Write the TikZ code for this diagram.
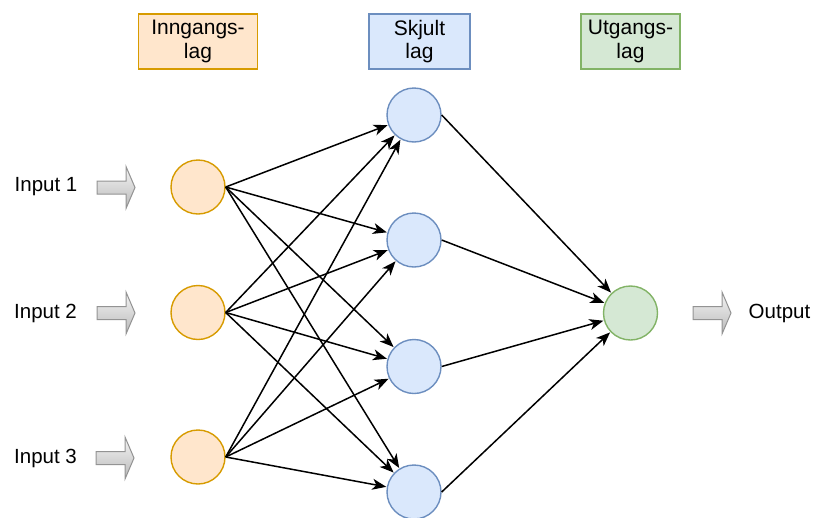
\documentclass[tikz,border=0pt]{standalone}
\usepackage{fontspec}
\setmainfont{Liberation Sans}
\usetikzlibrary{arrows.meta}
\definecolor{inFill}{HTML}{FFE6CC}
\definecolor{inDraw}{HTML}{D79B00}
\definecolor{hidFill}{HTML}{DAE8FC}
\definecolor{hidDraw}{HTML}{6C8EBF}
\definecolor{outFill}{HTML}{D5E8D4}
\definecolor{outDraw}{HTML}{82B366}
\tikzset{
  neuron/.style={circle, minimum size=54pt, inner sep=0pt, line width=1.4pt},
  inneuron/.style={neuron, fill=inFill, draw=inDraw},
  hidneuron/.style={neuron, fill=hidFill, draw=hidDraw},
  outneuron/.style={neuron, fill=outFill, draw=outDraw},
  header/.style={rectangle, minimum height=55pt, inner sep=0pt, line width=1.4pt, align=center,
    font=\fontsize{21}{23.5}\selectfont},
  label/.style={inner sep=0pt, font=\fontsize{20.5}{23}\selectfont},
  conn/.style={line width=1.5pt, -{Stealth[length=14pt,width=11pt,inset=4pt]}, shorten >=0.5pt},
  barrowstyle/.style={top color=gray!8, bottom color=gray!55, draw=gray!85, line width=1pt, line join=miter},
  barrow/.pic={\path[barrowstyle] (0,-6.5) -- (29,-6.5) -- (29,-21) -- (38,0) -- (29,21) -- (29,6.5) -- (0,6.5) -- cycle;}
}
\begin{document}
\begin{tikzpicture}[x=1pt,y=-1pt]
\useasboundingbox (0,0) rectangle (814,517);
% headers
\node[header, minimum width=119pt, fill=inFill, draw=inDraw] (h1) at (198,41.5) {Inngangs-\\lag};
\node[header, minimum width=101pt, fill=hidFill, draw=hidDraw] (h2) at (419.5,41.5) {Skjult\\lag};
\node[header, minimum width=99pt, fill=outFill, draw=outDraw] (h3) at (630.5,41.5) {Utgangs-\\lag};
% input labels
\node[label] (l1) at (46,187) {Input 1};
\node[label] (l2) at (45.5,313) {Input 2};
\node[label] (l3) at (45.5,458) {Input 3};
\node[label] (lo) at (779.5,313) {Output};
% block arrows
\pic at (97,187.5) {barrow};
\pic at (97,313) {barrow};
\pic at (96,458) {barrow};
\pic at (693,313) {barrow};
% neurons
\node[inneuron] (i1) at (198,187) {};
\node[inneuron] (i2) at (198,312.5) {};
\node[inneuron] (i3) at (198,457) {};
\node[hidneuron] (n1) at (414,115) {};
\node[hidneuron] (n2) at (414,240) {};
\node[hidneuron] (n3) at (414,366.5) {};
\node[hidneuron] (n4) at (414,492) {};
\node[outneuron] (o) at (630.5,313) {};
% connections
\foreach \i in {i1,i2,i3}{
  \foreach \h in {n1,n2,n3,n4}{
    \draw[conn] (\i.east) -- (\h);
  }
}
\foreach \h in {n1,n2,n3,n4}{
  \draw[conn] (\h.east) -- (o);
}
\end{tikzpicture}
\end{document}
